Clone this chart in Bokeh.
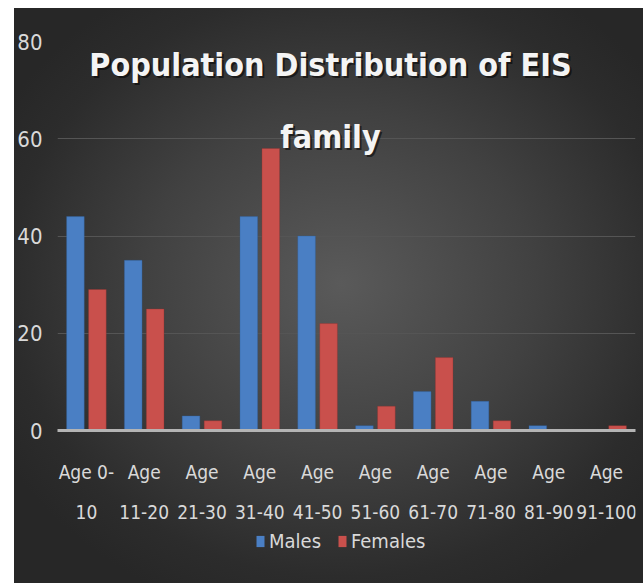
from bokeh.plotting import figure
from bokeh.models import (ColumnDataSource, Range1d, FixedTicker, Label, LabelSet,
                          Spacer, Legend)
from bokeh.core.properties import value
from bokeh.transform import dodge
from bokeh.layouts import row, column
from bokeh.embed import file_html
from bokeh.resources import INLINE

# ---- data ----
label_line1 = ["Age 0-", "Age", "Age", "Age", "Age", "Age", "Age", "Age", "Age", "Age"]
label_line2 = ["10", "11-20", "21-30", "31-40", "41-50", "51-60", "61-70", "71-80",
               "81-90", "91-100"]
males = [44, 35, 3, 44, 40, 1, 8, 6, 1, 0]
females = [29, 25, 2, 58, 22, 5, 15, 2, 0, 1]
y_ticks = [0, 20, 40, 60, 80]
title_lines = ["Population Distribution of EIS", "family"]

FONT = "DejaVu Sans Condensed"
TXT = "#d9d9d9"
W = 629

pos = [i + 0.5 for i in range(len(label_line2))]   # category slots
src = ColumnDataSource(dict(pos=pos, males=males, females=females))
lab_src = ColumnDataSource(dict(pos=pos, line1=label_line1, line2=label_line2))

# ---------------- main chart ----------------
p = figure(width=W, height=434, output_backend="svg", toolbar_location=None,
           x_range=Range1d(0, len(label_line2)), y_range=Range1d(0, 80),
           min_border_left=41, min_border_right=8, min_border_top=33,
           min_border_bottom=12)
p.background_fill_alpha = 0
p.border_fill_alpha = 0
p.outline_line_color = None

r_m = p.vbar(x=dodge("pos", -0.19), top="males", width=0.305, source=src,
             fill_color="#4a7fc4", line_color="#2f5f9a", line_width=0.6, line_alpha=0.6)
r_f = p.vbar(x=dodge("pos", 0.19), top="females", width=0.305, source=src,
             fill_color="#c9504c", line_color="#8f3230", line_width=0.6, line_alpha=0.6)

ax1 = p.xaxis[0]
ax1.ticker = FixedTicker(ticks=[])
ax1.axis_line_color = "#b4b4b4"
ax1.axis_line_width = 3
ax1.major_tick_line_color = None
ax1.major_tick_out = 0
ax1.major_tick_in = 0
ax1.minor_tick_line_color = None
ax1.major_label_standoff = 0

p.yaxis.ticker = FixedTicker(ticks=y_ticks)
p.yaxis.axis_line_color = None
p.yaxis.major_tick_line_color = None
p.yaxis.major_tick_out = 0
p.yaxis.major_tick_in = 0
p.yaxis.minor_tick_line_color = None
p.yaxis.major_label_text_font = FONT
p.yaxis.major_label_text_font_size = "22px"
p.yaxis.major_label_text_color = TXT
p.yaxis.major_label_standoff = 15

p.xgrid.grid_line_color = None
p.ygrid.grid_line_color = "#555555"
p.ygrid.grid_line_width = 1

# title (overlaid on the plot area like the original)
for txt, yb in zip(title_lines, [366, 294]):
    p.add_layout(Label(x=275, y=yb - 2, x_units="screen", y_units="screen", text=txt,
                       text_align="center", text_baseline="alphabetic",
                       text_font=FONT, text_font_style="bold", text_font_size="32px",
                       text_color="black", text_alpha=0.55))
    p.add_layout(Label(x=273, y=yb, x_units="screen", y_units="screen", text=txt,
                       text_align="center", text_baseline="alphabetic",
                       text_font=FONT, text_font_style="bold", text_font_size="32px",
                       text_color="#f4f4f4"))

# ---------------- category labels + legend strip ----------------
p2 = figure(width=W, height=141, output_backend="svg", toolbar_location=None,
            x_range=p.x_range, y_range=Range1d(1000, 1001),
            x_axis_location=None, y_axis_location=None,
            min_border_left=41, min_border_right=8, min_border_top=0, min_border_bottom=0)
p2.background_fill_alpha = 0
p2.border_fill_alpha = 0
p2.outline_line_color = None
p2.grid.visible = False

for col_name, yb in (("line1", 105), ("line2", 65)):
    p2.add_layout(LabelSet(x="pos", y=yb, y_units="screen", text=col_name, source=lab_src,
                           text_align="center", text_baseline="alphabetic",
                           text_font=value(FONT), text_font_size=value("19px"),
                           text_color=TXT))

l_m = p2.vbar(x="pos", top="males", width=0.3, source=src, fill_color="#4a7fc4",
              line_color=None)
l_f = p2.vbar(x="pos", top="females", width=0.3, source=src, fill_color="#c9504c",
              line_color=None)
lg = Legend(items=[("Males", [l_m]), ("Females", [l_f])], location=(198, 30),
            orientation="horizontal", background_fill_alpha=0, border_line_color=None,
            label_text_font=FONT, label_text_font_size="20px", label_text_color=TXT,
            glyph_width=10, glyph_height=14, label_standoff=4, spacing=16,
            padding=0, margin=0)
p2.add_layout(lg, "center")

col = column(p, p2, spacing=0)
col.styles = {"background": "radial-gradient(ellipse 62% 60% at 52% 48%, #5a5a5a 0%, #414141 50%, #2c2c2c 85%, #272727 100%)"}
layout = column(Spacer(width=W, height=8), row(Spacer(width=14, height=575), col,
                                               spacing=0), spacing=0)
open("out.html", "w").write(file_html(layout, INLINE))
